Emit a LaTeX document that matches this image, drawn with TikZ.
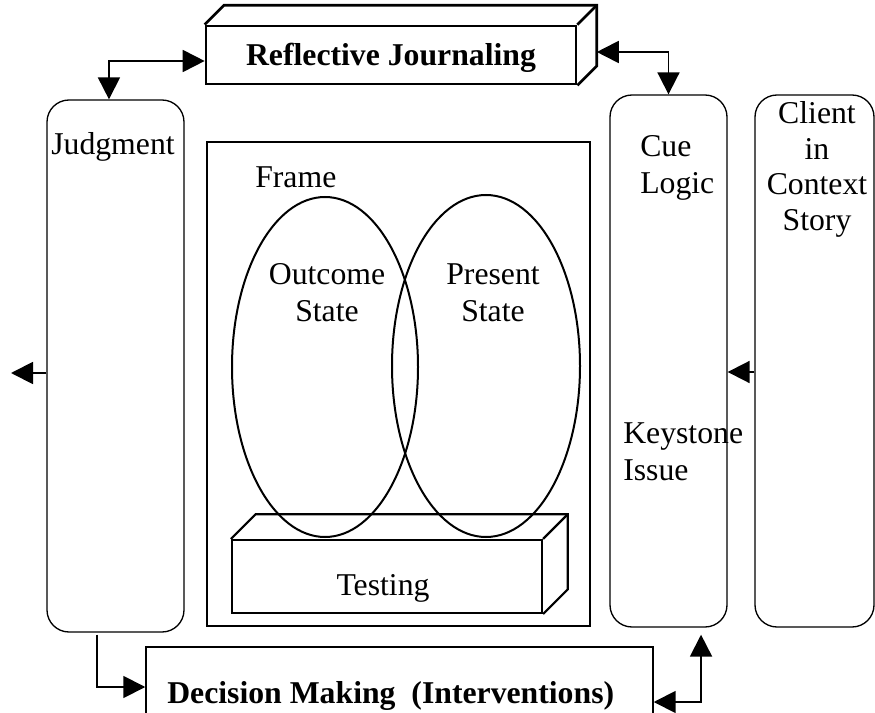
\documentclass[tikz,border=0pt]{standalone}
\usepackage{fontspec}
\setmainfont{Liberation Serif}
\usetikzlibrary{fit,shapes.geometric,arrows.meta}
\begin{document}
\begin{tikzpicture}[x=0.75pt,y=-0.75pt,
  txt/.style={font=\fontsize{23.8}{28}\selectfont, inner sep=0pt},
  btxt/.style={font=\fontsize{23.8}{28}\selectfont\bfseries, inner sep=0pt},
  rbox/.style={draw, line width=1pt, rounded corners=16.5pt, inner sep=0pt},
  sbox/.style={draw, line width=1.8pt, inner sep=0pt},
  oval/.style={ellipse, draw, line width=1.5pt, inner sep=0pt},
  conn/.style={line width=1.4pt, -{Triangle[length=16.5pt,width=16.5pt]}},
  biconn/.style={line width=1.4pt, {Triangle[length=16.5pt,width=16.5pt]}-{Triangle[length=16.5pt,width=16.5pt]}}]
\useasboundingbox (0,0) rectangle (875,713);
\clip (0,0) rectangle (875,713);

% Reflective Journaling (3D box)
\node[sbox, line width=2pt, fit={(206,26) (576,84)}] (rj) {};
\draw[line width=2pt] (rj.north west) -- ++(14.6pt,14.6pt) -- ([shift={(14.6pt,14.6pt)}]rj.north east)
  -- ([shift={(14.6pt,14.6pt)}]rj.south east) -- (rj.south east);
\draw[line width=2pt] (rj.north east) -- ++(14.6pt,14.6pt);
\node[btxt, anchor=base] (rjt) at (391,66) {Reflective Journaling};

% side boxes
\node[rbox, fit={(47,100) (184,632)}] (judg) {};
\node[rbox, fit={(610,95) (727,627)}] (cue) {};
\node[rbox, fit={(755,95) (874,627)}] (client) {};

% frame
\node[sbox, fit={(207,142) (590,626)}] (frame) {};

% testing box
\node[sbox, line width=1.6pt, fit={(232,540) (542,613)}] (test) {};
\draw[line width=1.6pt] (test.north west) -- ++(18.5pt,18.5pt) -- ([shift={(18.5pt,18.5pt)}]test.north east)
  -- ([shift={(18.5pt,18.5pt)}]test.south east) -- (test.south east);
\draw[line width=1.6pt] (test.north east) -- ++(18.5pt,18.5pt);
\node[txt, anchor=base] (testt) at (383,595) {Testing};

% ellipses
\node[oval, minimum width=139.5pt, minimum height=255pt] (outc) at (325,367) {};
\node[oval, minimum width=141pt, minimum height=256.5pt] (pres) at (486,366) {};

% decision making box (cut off at the bottom)
\node[draw, line width=1.1pt, inner sep=0pt, fit={(146,647) (653,727)}] (dec) {};
\node[btxt, anchor=base west] (dect) at (167,703) {Decision Making\ \ (Interventions)};

% texts
\node[txt, anchor=base] (judgt) at (113,155) {Judgment};
\node[txt, anchor=base west] (framet) at (255,188) {Frame};
\node[txt, anchor=base] (outc1) at (327,284) {Outcome};
\node[txt, anchor=base] (outc2) at (327,321) {State};
\node[txt, anchor=base] (pres1) at (493,284) {Present};
\node[txt, anchor=base] (pres2) at (493,321) {State};
\node[txt, anchor=base west] (cue1) at (640,157) {Cue};
\node[txt, anchor=base west] (cue2) at (640,194) {Logic};
\node[txt, anchor=base west] (key1) at (623,443) {Keystone};
\node[txt, anchor=base west] (key2) at (623,480) {Issue};
\node[txt, anchor=base] (cl1) at (817,124) {Client};
\node[txt, anchor=base] (cl2) at (817,160) {in};
\node[txt, anchor=base] (cl3) at (817,195) {Context};
\node[txt, anchor=base] (cl4) at (817,231) {Story};

% connectors
\coordinate (outL) at (11,373);
\draw[biconn] ([yshift=-4.5pt]rj.west) -| ([xshift=-4.9pt]judg.north);
\draw[biconn] ([xshift=14.6pt,yshift=2.25pt]rj.east) -| (cue.north);
\draw[conn] ([yshift=-5.25pt]judg.west) -- (outL);
\draw[conn] ([yshift=-8.25pt]client.west) -- ([yshift=-8.25pt]cue.east);
\draw[conn] ([xshift=-13.9pt,yshift=-1.5pt]judg.south) |- (dec.west);
\draw[biconn] ([yshift=-11.25pt]dec.east) -| ([xshift=24.4pt,yshift=-5.25pt]cue.south);
\end{tikzpicture}
\end{document}
